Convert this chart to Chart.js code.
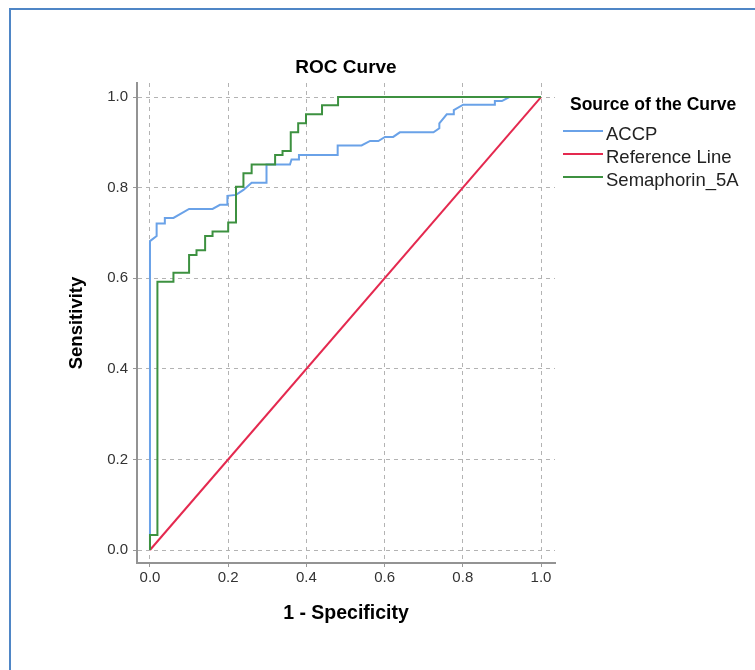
<!DOCTYPE html>
<html>
<head>
<meta charset="utf-8">
<script src="https://cdn.jsdelivr.net/npm/chart.js@4"></script>
<style>
  html, body { margin: 0; padding: 0; background: #fff; }
  #frame { position: absolute; left: 9px; top: 8px; width: 800px; height: 700px;
           border-left: 2px solid #4f86c6; border-top: 2px solid #4f86c6; }
  #rocChart { position: absolute; left: 0; top: 0; }
</style>
</head>
<body>
<div id="frame"></div>
<canvas id="rocChart" width="755" height="670"></canvas>
<script>
// ROC points (1 - specificity, sensitivity)
const accpX = [0, 0, 0.017, 0.017, 0.038, 0.038, 0.06, 0.10, 0.16, 0.179, 0.198, 0.198, 0.22, 0.239, 0.26, 0.298, 0.298, 0.358, 0.362, 0.379, 0.381, 0.48, 0.48, 0.541, 0.563, 0.584, 0.601, 0.622, 0.639, 0.725, 0.74, 0.74, 0.759, 0.777, 0.777, 0.801, 0.882, 0.882, 0.9, 0.919, 1];
const accpY = [0, 0.682, 0.693, 0.721, 0.721, 0.733, 0.733, 0.753, 0.753, 0.762, 0.762, 0.782, 0.784, 0.795, 0.811, 0.811, 0.851, 0.851, 0.862, 0.862, 0.872, 0.872, 0.893, 0.893, 0.903, 0.903, 0.912, 0.912, 0.922, 0.922, 0.931, 0.942, 0.962, 0.962, 0.971, 0.983, 0.983, 0.991, 0.991, 1, 1];

const semaX = [0, 0, 0.019, 0.019, 0.06, 0.06, 0.10, 0.10, 0.119, 0.119, 0.141, 0.141, 0.16, 0.16, 0.2, 0.2, 0.22, 0.22, 0.239, 0.239, 0.26, 0.26, 0.32, 0.32, 0.339, 0.339, 0.36, 0.36, 0.379, 0.379, 0.399, 0.399, 0.44, 0.44, 0.481, 0.481, 1];
const semaY = [0, 0.033, 0.033, 0.592, 0.592, 0.612, 0.612, 0.651, 0.651, 0.662, 0.662, 0.693, 0.693, 0.703, 0.703, 0.723, 0.723, 0.802, 0.802, 0.832, 0.832, 0.851, 0.851, 0.872, 0.872, 0.881, 0.881, 0.922, 0.922, 0.942, 0.942, 0.962, 0.962, 0.982, 0.982, 1, 1];

const refX = [0, 1];
const refY = [0, 1];

const seriesNames = ['ACCP', 'Reference Line', 'Semaphorin_5A'];
const tickValues = [0, 0.2, 0.4, 0.6, 0.8, 1.0];

function pts(xs, ys) {
  return xs.map((x, i) => ({ x: x, y: ys[i] }));
}

const FONT = '"Liberation Sans", Arial, sans-serif';

// legend drawn on the right like the SPSS output
const sideLegend = {
  id: 'sideLegend',
  afterDraw(chart) {
    const ctx = chart.ctx;
    ctx.save();
    ctx.fillStyle = '#000';
    ctx.font = 'bold 17.5px ' + FONT;
    ctx.textBaseline = 'alphabetic';
    ctx.fillText('Source of the Curve', 570, 110);
    ctx.font = '18.5px ' + FONT;
    chart.data.datasets.forEach((ds, i) => {
      const y = 131 + i * 23;
      ctx.strokeStyle = ds.borderColor;
      ctx.lineWidth = 2;
      ctx.beginPath();
      ctx.moveTo(563, y);
      ctx.lineTo(603, y);
      ctx.stroke();
      ctx.fillStyle = '#222';
      ctx.fillText(ds.label, 606, y + 9);
    });
    ctx.restore();
  }
};

const ctx = document.getElementById('rocChart').getContext('2d');

new Chart(ctx, {
  type: 'scatter',
  data: {
    datasets: [
      { label: seriesNames[0], data: pts(accpX, accpY), borderColor: '#6aa2e8', order: 2 },
      { label: seriesNames[1], data: pts(refX, refY), borderColor: '#e4294f', order: 1 },
      { label: seriesNames[2], data: pts(semaX, semaY), borderColor: '#3d9140', order: 0 }
    ].map(d => Object.assign(d, { showLine: true, borderWidth: 2, pointRadius: 0, tension: 0, fill: false }))
  },
  options: {
    responsive: false,
    animation: false,
    devicePixelRatio: 1,
    layout: { padding: { left: 60, right: 200, top: 0, bottom: 45 } },
    plugins: {
      legend: { display: false },
      tooltip: { enabled: false },
      title: {
        display: true,
        text: 'ROC Curve',
        fullSize: false,
        color: '#000',
        font: { family: FONT, size: 19, weight: 'bold' },
        padding: { top: 56.6, bottom: 3.6 }
      }
    },
    scales: {
      x: {
        type: 'linear',
        min: -0.0332,
        max: 1.0358,
        afterFit: s => { s.height = 62; },
        afterBuildTicks: s => { s.ticks = tickValues.map(v => ({ value: v })); },
        ticks: { color: '#333', padding: 2, font: { family: FONT, size: 15 }, callback: v => v.toFixed(1) },
        grid: { color: '#b3b3b3', lineWidth: 1, tickLength: 4, tickColor: '#999', tickBorderDash: [] },
        border: { display: true, color: '#939393', width: 2, dash: [4, 4] },
        title: { display: true, text: '1 - Specificity', color: '#000', font: { family: FONT, size: 19.5, weight: 'bold' }, padding: { top: 0, bottom: 0 } }
      },
      y: {
        type: 'linear',
        min: -0.0287,
        max: 1.031,
        afterFit: s => { s.width = 77; },
        afterBuildTicks: s => { s.ticks = tickValues.map(v => ({ value: v })); },
        ticks: { color: '#333', padding: 5, font: { family: FONT, size: 15 }, callback: v => v.toFixed(1) },
        grid: { color: '#b3b3b3', lineWidth: 1, tickLength: 4, tickColor: '#999', tickBorderDash: [] },
        border: { display: true, color: '#939393', width: 2, dash: [4, 4] },
        title: { display: true, text: 'Sensitivity', color: '#000', font: { family: FONT, size: 18.5, weight: 'bold' }, padding: { top: 5.5, bottom: 0 } }
      }
    }
  },
  plugins: [sideLegend]
});
</script>
</body>
</html>
